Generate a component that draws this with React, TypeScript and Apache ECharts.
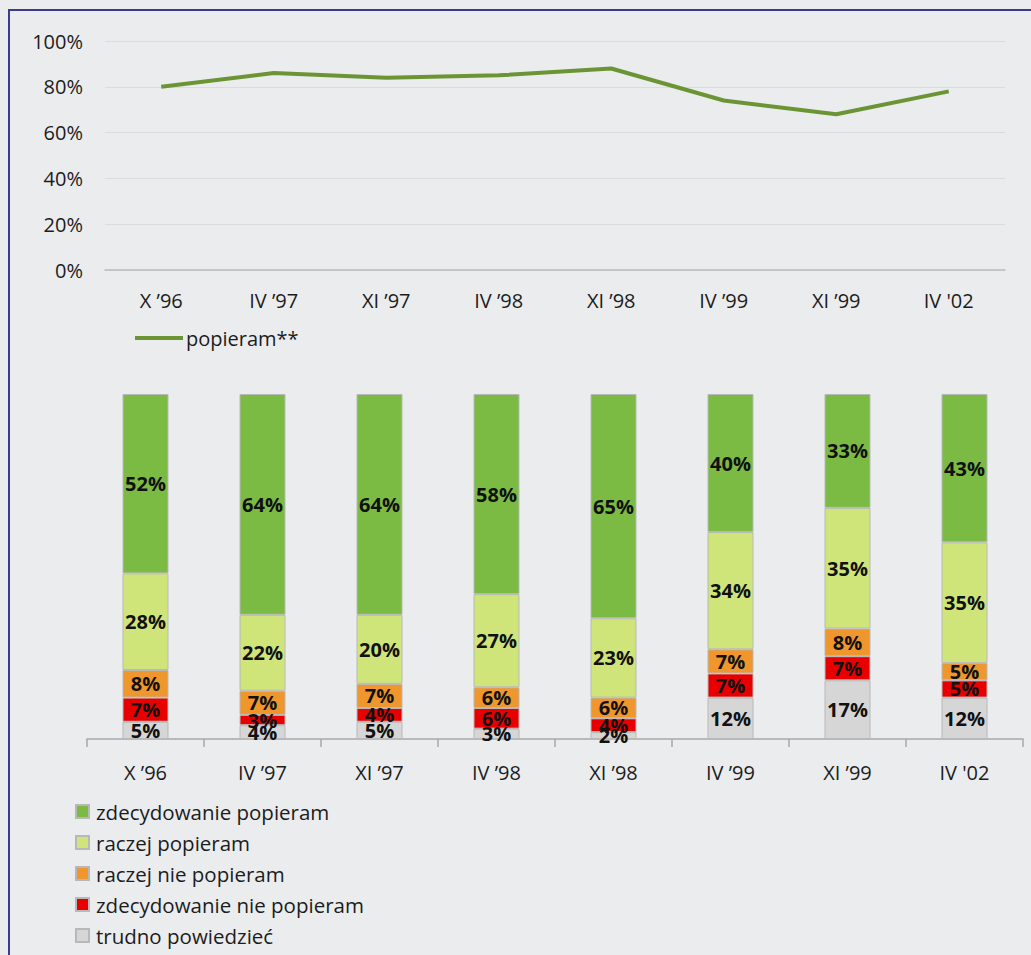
import React, { useEffect, useRef } from "react";
import * as echarts from "echarts";

const categoriesTop = ["X ’96", "IV ’97", "XI ’97", "IV ’98", "XI ’98", "IV ’99", "XI ’99", "IV '02"];
const categoriesBottom = ["X ’96", "IV ’97", "XI ’97", "IV ’98", "XI ’98", "IV ’99", "XI ’99", "IV '02"];

const popieram = [80, 86, 84, 85, 88, 74, 68, 78];

const zdecydowaniePopieram = [52, 64, 64, 58, 65, 40, 33, 43];
const raczejPopieram = [28, 22, 20, 27, 23, 34, 35, 35];
const raczejNiePopieram = [8, 7, 7, 6, 6, 7, 8, 5];
const zdecydowanieNiePopieram = [7, 3, 4, 6, 4, 7, 7, 5];
const trudnoPowiedziec = [5, 4, 5, 3, 2, 12, 17, 12];

const yTicksTop = [0, 20, 40, 60, 80, 100];

const FONT = "'Open Sans', sans-serif";
const TEXT = "#1c1c1c";

export default function App() {
  const ref = useRef<HTMLDivElement>(null);

  useEffect(() => {
    if (!ref.current) return;
    const chart = echarts.init(ref.current, null, { renderer: "svg" });

    const barSeries = [
      { name: "trudno powiedzieć", data: trudnoPowiedziec, color: "#d6d6d6" },
      { name: "zdecydowanie nie popieram", data: zdecydowanieNiePopieram, color: "#e80000" },
      { name: "raczej nie popieram", data: raczejNiePopieram, color: "#ef962c" },
      { name: "raczej popieram", data: raczejPopieram, color: "#cfe57a" },
      { name: "zdecydowanie popieram", data: zdecydowaniePopieram, color: "#7bbb44" },
    ].map((s) => ({
      name: s.name,
      type: "bar",
      stack: "total",
      xAxisIndex: 1,
      yAxisIndex: 1,
      barWidth: 46,
      data: s.data,
      itemStyle: { color: s.color, borderColor: "#b8b8b8", borderWidth: 1 },
      label: {
        show: true,
        position: "inside",
        formatter: "{c}%",
        fontFamily: FONT,
        fontWeight: "bold",
        fontSize: 20,
        color: "#111",
      },
    }));

    chart.setOption({
      animation: false,
      backgroundColor: "transparent",
      textStyle: { fontFamily: FONT },
      grid: [
        { left: 105, right: 26, top: 41, height: 229 },
        { left: 87, right: 8, top: 394, height: 345 },
      ],
      xAxis: [
        {
          type: "category",
          gridIndex: 0,
          data: categoriesTop,
          boundaryGap: true,
          axisLine: { lineStyle: { color: "#bcbcbc", width: 1.5 } },
          axisTick: { show: false },
          axisLabel: { color: TEXT, fontSize: 20, fontFamily: FONT, margin: 20 },
        },
        {
          type: "category",
          gridIndex: 1,
          data: categoriesBottom,
          boundaryGap: true,
          axisLine: { lineStyle: { color: "#a8a8a8", width: 1.5 } },
          axisTick: { show: true, length: 8, lineStyle: { color: "#a8a8a8", width: 1.5 } },
          axisLabel: { color: TEXT, fontSize: 20, fontFamily: FONT, margin: 23 },
        },
      ],
      yAxis: [
        {
          type: "value",
          gridIndex: 0,
          min: yTicksTop[0],
          max: yTicksTop[yTicksTop.length - 1],
          interval: 20,
          axisLine: { show: false },
          axisTick: { show: false },
          splitLine: { lineStyle: { color: "#dcdcdc", width: 1 } },
          axisLabel: { color: TEXT, fontSize: 20, fontFamily: FONT, margin: 22, formatter: "{value}%" },
        },
        {
          type: "value",
          gridIndex: 1,
          min: 0,
          max: 100,
          show: false,
        },
      ],
      legend: [
        {
          data: ["popieram**"],
          left: 130,
          top: 323,
          icon: "rect",
          itemWidth: 48,
          itemHeight: 4,
          itemGap: 0,
          textStyle: { color: TEXT, fontSize: 20, fontFamily: FONT, padding: [0, 0, 0, -2] },
        },
        {
          data: [
            "zdecydowanie popieram",
            "raczej popieram",
            "raczej nie popieram",
            "zdecydowanie nie popieram",
            "trudno powiedzieć",
          ],
          orient: "vertical",
          left: 70,
          top: 796,
          icon: "rect",
          itemWidth: 13,
          itemHeight: 13,
          itemGap: 10,
          textStyle: { color: TEXT, fontSize: 20.5, fontFamily: FONT, padding: [0, 0, 0, 2] },
        },
      ],
      series: [
        {
          name: "popieram**",
          type: "line",
          xAxisIndex: 0,
          yAxisIndex: 0,
          data: popieram,
          symbol: "none",
          lineStyle: { color: "#6b9535", width: 4 },
          itemStyle: { color: "#6b9535" },
        },
        ...barSeries,
      ],
    });

    return () => chart.dispose();
  }, []);

  return (
    <div
      style={{
        position: "fixed",
        left: 0,
        top: 0,
        width: 1031,
        height: 955,
        background: "#ebecee",
        overflow: "hidden",
      }}
    >
      <div style={{ position: "absolute", left: 8, top: 9, width: 1023, height: 2, background: "#3c3c8c" }} />
      <div style={{ position: "absolute", left: 8, top: 9, width: 2, height: 946, background: "#3c3c8c" }} />
      <div ref={ref} style={{ position: "absolute", left: 0, top: 0, width: 1031, height: 955 }} />
    </div>
  );
}
